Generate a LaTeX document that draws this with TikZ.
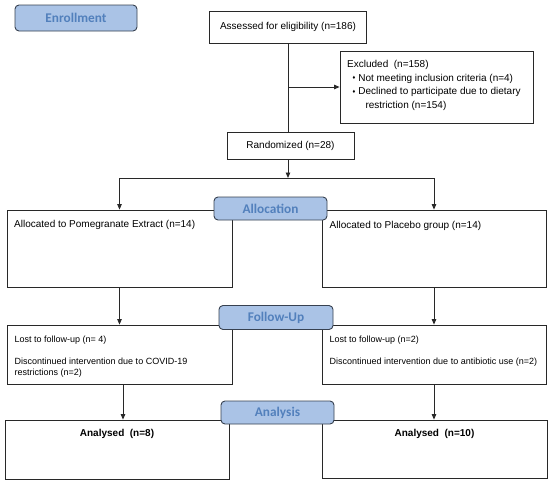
\documentclass[tikz,border=0pt]{standalone}
\usepackage{fontspec}
\setmainfont{Liberation Sans}
\newfontfamily\stagefont{Carlito}
\usetikzlibrary{arrows.meta}

\definecolor{stagefill}{RGB}{170,195,230}
\definecolor{stageedge}{RGB}{55,65,80}
\definecolor{stagetext}{RGB}{82,128,188}
\definecolor{boxedge}{RGB}{40,40,40}

\newcommand\dmd{\raisebox{1.6pt}{\fontsize{5.5}{5.5}\selectfont ♦}}

\begin{document}
\begin{tikzpicture}[x=1pt, y=-1pt,
    font=\fontsize{10}{12}\selectfont,
    box/.style={draw=boxedge, line width=0.8pt, inner sep=0pt, fill=white},
    stage/.style={draw=stageedge, line width=0.9pt, fill=stagefill,
        rounded corners=4pt, inner sep=0pt, minimum width=113pt, minimum height=23pt,
        font=\stagefont\fontsize{13.3}{14}\selectfont\bfseries, text=stagetext},
    txt/.style={anchor=north west, inner sep=0pt, align=left},
    line/.style={draw=boxedge, line width=0.9pt},
    arr/.style={line, -{Triangle[length=5.5pt, width=4.5pt]}}]

\useasboundingbox (0,0) rectangle (550,483);

% ── Enrollment ────────────────────────────────────────────────
\node[box, minimum width=157.5pt, minimum height=32pt] (assess) at (288,27)
    {Assessed for eligibility (n=186)};
\node[box, minimum width=193pt, minimum height=72pt] (excl) at (436.5,87) {};
\node[txt, font=\fontsize{10}{13.5}\selectfont] (excltxt) at (347,60.2)
    {Excluded\ \ (n=158)\\
     \hspace*{5.5pt}\dmd\hspace{2.8pt}Not meeting inclusion criteria (n=4)\\
     \hspace*{5.5pt}\dmd\hspace{2.8pt}Declined to participate due to dietary\\
     \hspace*{18.3pt}restriction (n=154)};
\node[box, minimum width=127pt, minimum height=27pt] (rand) at (290.5,145.5)
    {Randomized (n=28)};

\coordinate (split) at (288,178);
\draw[line] (assess.south) -- (assess.south |- rand.north);
\draw[arr]  (assess.south |- excl.west) -- (excl.west);
\draw[arr]  (assess.south |- rand.south) -- (split);

% ── Allocation ────────────────────────────────────────────────
\node[box, minimum width=225pt, minimum height=77pt] (alloL) at (119.5,248.5) {};
\node[box, minimum width=224pt, minimum height=77pt] (alloR) at (434,248.5) {};
\node[anchor=base west, inner sep=0pt] (alloLtxt) at (14,227.6)
    {Allocated to Pomegranate Extract (n=14)};
\node[anchor=base west, inner sep=0pt] (alloRtxt) at (329.5,228)
    {Allocated to Placebo group (n=14)};

\draw[arr] (split) -| (alloL.north);
\draw[arr] (split) -| (alloR.north);

% ── Follow-Up ─────────────────────────────────────────────────
\node[box, minimum width=225pt, minimum height=59pt] (fuL) at (119.5,354.5) {};
\node[box, minimum width=224pt, minimum height=59pt] (fuR) at (434,354.5) {};
\node[txt, font=\fontsize{9}{11.5}\selectfont] (fuLtxt) at (14.5,335.6)
    {Lost to follow-up (n= 4)\\[10.5pt]
     Discontinued intervention due to COVID-19\\
     restrictions (n=2)};
\node[txt, font=\fontsize{9}{11.5}\selectfont] (fuRtxt) at (329.5,335.6)
    {Lost to follow-up (n=2)\\[10.5pt]
     Discontinued intervention due to antibiotic use (n=2)};

\draw[arr] (alloL.south) -- (alloL.south |- fuL.north);
\draw[arr] (alloR.south) -- (alloR.south |- fuR.north);

% ── Analysis ──────────────────────────────────────────────────
\node[box, minimum width=224pt, minimum height=59pt] (anL) at (117,449.5) {};
\node[box, minimum width=225pt, minimum height=58pt] (anR) at (434.5,449) {};
\node[anchor=base, inner sep=0pt, font=\fontsize{10}{12}\selectfont\bfseries]
    (anLtxt) at (117,436.6) {Analysed\ \ (n=8)};
\node[anchor=base, inner sep=0pt, font=\fontsize{10}{12}\selectfont\bfseries]
    (anRtxt) at (434.5,436.6) {Analysed\ \ (n=10)};

\draw[arr] ([xshift=3.5pt]fuL.south) -- ([xshift=3.5pt]fuL.south |- anL.north);
\draw[arr] (fuR.south) -- (fuR.south |- anR.north);

% ── Etapas ────────────────────────────────────────────────────
\node[stage, minimum width=122pt, minimum height=26pt] (enroll) at (76,18) {Enrollment};
\node[stage] (alloc)   at (270.5,208.5) {Allocation};
\node[stage, minimum width=114pt, minimum height=24pt] (follow) at (276,317.5) {Follow-Up};
\node[stage] (analys)  at (277.5,412.5) {Analysis};

\end{tikzpicture}
\end{document}
